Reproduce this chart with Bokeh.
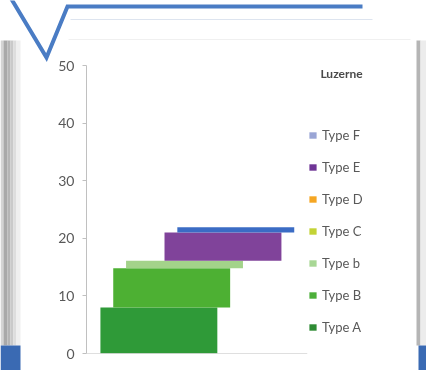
from bokeh.plotting import figure
from bokeh.models import Range1d, Legend, LegendItem, Span
from bokeh.embed import file_html
from bokeh.resources import INLINE

# ---- data ----
types = ["Type A", "Type B", "Type b", "Type C", "Type D", "Type E", "Type F"]
values = [8.0, 6.8, 1.3, 0.0, 0.0, 4.9, 0.9]
bar_colors = ["#2f9a38", "#4db033", "#a3d38a", "#c3d335", "#f5a623", "#80439a", "#3b6cc4"]
legend_colors = ["#2e8b34", "#4caf3a", "#a8d795", "#c3d335", "#f5a623", "#6f3596", "#9aa5d5"]
y_ticks = [0, 10, 20, 30, 40, 50]
legend_title = "Luzerne"

FONT = "Lato"
W, H = 426, 370
FIXED = {"position": "fixed", "left": "0px", "top": "0px"}

# ---- background page (decorations + legend), frame = whole canvas in pixel units ----
bg = figure(width=W, height=H, output_backend="svg", toolbar_location=None,
            x_range=Range1d(0, W), y_range=Range1d(H, 0),
            x_axis_location=None, y_axis_location=None,
            min_border=0, min_border_left=0, min_border_right=0,
            min_border_top=0, min_border_bottom=0,
            background_fill_color="white", border_fill_color="white",
            outline_line_color=None, styles=FIXED)
bg.grid.visible = False

strips = [(0, 3, "#d4d4d4"), (3, 7, "#a9a9a9"), (7, 10, "#b5b5b5"),
          (10, 13, "#c9c9c9"), (13, 16, "#dddddd"), (16, 20, "#efefef")]
bg.quad(left=[s[0] for s in strips], right=[s[1] for s in strips],
        top=[40] * len(strips), bottom=[345] * len(strips),
        fill_color=[s[2] for s in strips], line_color=None)
bg.quad(left=[416, 420], right=[420, 426], top=[40, 40], bottom=[345, 345],
        fill_color=["#b5b5b5", "#ececec"], line_color=None)
bg.quad(left=[0, 418], right=[20, 426], top=[345, 345], bottom=[370, 370],
        fill_color="#3a6ab3", line_color=None)
bg.line(x=[10, 46, 67, 362], y=[-3, 57, 6, 6], line_color="#4a7cc4", line_width=4,
        line_join="miter")
bg.line(x=[70, 372], y=[19, 19], line_color="#dde4ef", line_width=1)
bg.line(x=[68, 410], y=[39, 39], line_color="#f0f0f0", line_width=1)

# legend swatch renderers (zero-area, only used for the legend)
legend_items = []
for i, t in enumerate(types):
    swatch = bg.quad(left=[0], right=[0], bottom=[0], top=[0],
                     fill_color=legend_colors[i], line_color=None)
    legend_items.append(LegendItem(label=t, renderers=[swatch]))

legend = Legend(items=legend_items[::-1], location=(308, 33),
                orientation="vertical", glyph_width=9, glyph_height=8,
                label_standoff=5, spacing=12, label_height=20,
                label_text_font=FONT, label_text_font_size="13px",
                label_text_color="#595959", border_line_color=None,
                background_fill_alpha=0, padding=0, margin=0)
bg.add_layout(legend)

bg.text(x=[341], y=[73], text=[legend_title], text_font_size="12px",
        text_font_style="bold", text_color="#4a4a4a", text_align="center",
        text_baseline="middle", text_font={"value": FONT})

# ---- chart ----
p = figure(width=W, height=H, output_backend="svg", toolbar_location=None,
           x_range=Range1d(0, 1), y_range=Range1d(0, 50),
           x_axis_location=None,
           min_border_left=86, min_border_right=119,
           min_border_top=65, min_border_bottom=17,
           background_fill_alpha=0, border_fill_alpha=0,
           outline_line_color=None, styles=FIXED)
p.grid.visible = False

ya = p.yaxis[0]
ya.ticker = y_ticks
ya.axis_line_color = "#c0c0c0"
ya.major_tick_line_color = "#c0c0c0"
ya.major_tick_out = 4
ya.major_tick_in = 0
ya.minor_tick_out = 0
ya.minor_tick_in = 0
ya.major_label_standoff = 8
ya.major_label_text_font = FONT
ya.major_label_text_font_size = "14px"
ya.major_label_text_color = "#595959"

p.add_layout(Span(location=0, dimension="width", line_color="#c0c0c0", line_width=1))

# 3D-style stacked column: each series is shifted in depth
x0, step, bw = 0.063, 0.058, 0.529
bottom = 0.0
for i, v in enumerate(values):
    left = x0 + i * step
    p.quad(left=[left], right=[left + bw], bottom=[bottom], top=[bottom + v],
           fill_color=bar_colors[i], line_color=None)
    bottom += v

open("out.html", "w").write(file_html([bg, p], INLINE))
